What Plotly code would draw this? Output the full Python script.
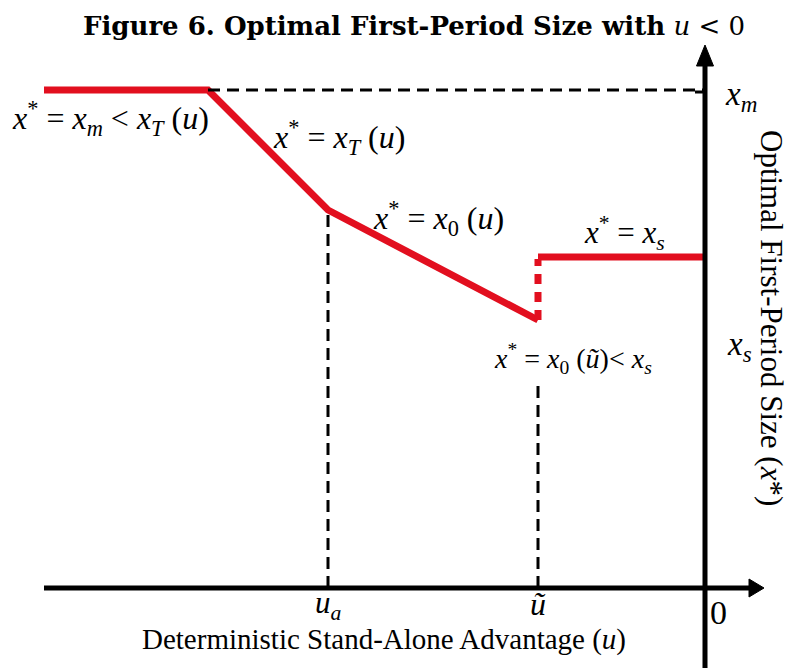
import plotly.graph_objects as go

# Piecewise optimal first-period size x*(u) for u < 0
u_path = [-6.61, -4.97, -3.77, -1.67]
x_path = [4.98, 4.98, 3.78, 2.68]
u_a = -3.77
u_tilde = -1.67
x_m = 4.98
x_s = 3.31
x_jump_low = 2.68

SERIF = "Liberation Serif, Times New Roman, serif"
RED = "#e20f1f"

fig = go.Figure()

# main red segments
fig.add_trace(go.Scatter(x=u_path, y=x_path, mode="lines",
                         line=dict(color=RED, width=7), hoverinfo="skip"))
fig.add_trace(go.Scatter(x=[u_tilde, 0], y=[x_s, x_s], mode="lines",
                         line=dict(color=RED, width=7), hoverinfo="skip"))
# dotted jump at u-tilde
fig.add_trace(go.Scatter(x=[u_tilde, u_tilde], y=[x_jump_low, x_s - 0.02], mode="lines",
                         line=dict(color=RED, width=7, dash="10px,8px"), hoverinfo="skip"))

# black dashed guides
dash = dict(color="black", width=3, dash="12px,7px")
fig.add_trace(go.Scatter(x=[u_path[1], 0], y=[x_m, x_m], mode="lines", line=dash, hoverinfo="skip"))
fig.add_trace(go.Scatter(x=[u_a, u_a], y=[0, x_path[2]], mode="lines", line=dash, hoverinfo="skip"))
fig.add_trace(go.Scatter(x=[u_tilde, u_tilde], y=[0, 2.03], mode="lines", line=dash, hoverinfo="skip"))

# axes with arrowheads
fig.add_shape(type="line", x0=-6.61, x1=0.48, y0=0, y1=0, line=dict(color="black", width=5))
fig.add_shape(type="line", x0=0, x1=0, y0=-0.85, y1=5.25, line=dict(color="black", width=5))
fig.add_shape(type="line", x0=-0.10, x1=0, y0=4.96, y1=4.96, line=dict(color="black", width=3))
fig.add_shape(type="path", path="M 0.44,0.09 L 0.59,0 L 0.44,-0.09 Z",
              fillcolor="black", line=dict(color="black", width=1))
fig.add_shape(type="path", path="M -0.085,5.22 L 0,5.43 L 0.085,5.22 Z",
              fillcolor="black", line=dict(color="black", width=1))

def label(x, y, text, size=28, **kw):
    fig.add_annotation(x=x, y=y, text=text, showarrow=False,
                       font=dict(family=SERIF, size=size, color="black"), **kw)

label(-5.95, 4.70, "<i>x</i><sup>*</sup> = <i>x<sub>m</sub></i> < <i>x<sub>T</sub></i> (<i>u</i>)", size=32)
label(-3.66, 4.51, "<i>x</i><sup>*</sup> = <i>x<sub>T</sub></i> (<i>u</i>)", size=32)
label(-2.67, 3.70, "<i>x</i><sup>*</sup> = <i>x</i><sub>0</sub> (<i>u</i>)", size=32)
label(-0.81, 3.55, "<i>x</i><sup>*</sup> = <i>x<sub>s</sub></i>", size=31)
label(-1.32, 2.30, "<i>x</i><sup>*</sup> = <i>x</i><sub>0</sub> (<i>ũ</i>)< <i>x<sub>s</sub></i>", size=28)

label(0.36, 4.92, "<i>x<sub>m</sub></i>", size=33)
label(0.34, 2.42, "<i>x<sub>s</sub></i>", size=33)
label(u_a, -0.17, "<i>u<sub>a</sub></i>", size=31)
label(u_tilde, -0.16, "<i>ũ</i>", size=32)
label(0.13, -0.24, "0", size=34)

label(-3.21, -0.515, "Deterministic Stand-Alone Advantage (<i>u</i>)", size=29)
label(0.67, 2.70, "Optimal First-Period Size (<i>x</i>*)", size=31, textangle=90)

fig.add_annotation(x=0.522, y=1 - 26 / 668, xref="paper", yref="paper",
                   xanchor="center", yanchor="middle",
                   text="<b>Figure 6. Optimal First-Period Size with</b> <i>u</i> < 0",
                   showarrow=False, font=dict(family="DejaVu Serif, serif", size=26, color="black"))

fig.update_layout(
    width=793, height=668, margin=dict(l=0, r=0, t=0, b=0),
    paper_bgcolor="white", plot_bgcolor="white", showlegend=False,
    xaxis=dict(range=[-7.05, 0.88], visible=False, fixedrange=True),
    yaxis=dict(range=[-0.80, 5.88], visible=False, fixedrange=True),
)

fig.write_html("out.html")
